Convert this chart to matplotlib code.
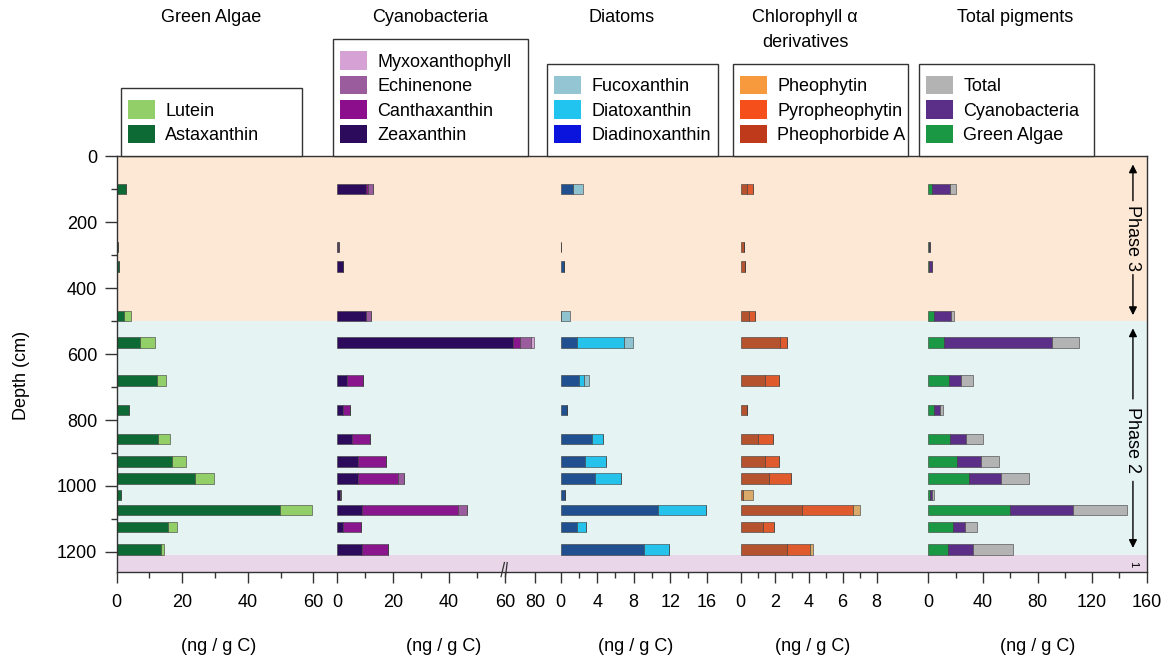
import numpy as np
import matplotlib
matplotlib.use("Agg")
import matplotlib.pyplot as plt
from matplotlib.patches import Patch
from matplotlib.path import Path

plt.rcParams["font.family"] = ["Liberation Sans", "DejaVu Sans"]
plt.rcParams["font.size"] = 13

# sample depths (cm)
depth = [100, 275, 335, 485, 565, 680, 770, 857, 925, 977, 1027, 1073, 1124, 1193]

# green algae pigments (ng / g C)
astaxanthin = [2.7, 0.3, 0.7, 2.1, 7.1, 12.4, 3.9, 12.7, 16.9, 23.9, 1.2, 49.8, 15.7, 13.5]
lutein = [0.0, 0.0, 0.0, 2.4, 4.7, 2.5, 0.0, 3.5, 4.1, 5.8, 0.0, 9.7, 2.7, 1.0]

# cyanobacteria pigments
zeaxanthin = [10.5, 0.3, 2.0, 10.5, 65.0, 3.4, 2.3, 5.2, 7.6, 7.6, 1.0, 8.8, 2.3, 8.8]
canthaxanthin = [0.5, 0.0, 0.0, 0.0, 5.0, 5.7, 2.3, 6.5, 9.8, 14.2, 0.0, 34.4, 6.1, 9.5]
echinenone = [2.0, 0.3, 0.0, 1.5, 7.0, 0.0, 0.0, 0.0, 0.0, 2.0, 0.3, 3.0, 0.0, 0.0]
myxoxanthophyll = [0.0, 0.0, 0.0, 0.0, 2.0, 0.0, 0.0, 0.0, 0.0, 0.0, 0.0, 0.0, 0.0, 0.0]

# diatom pigments
diadinoxanthin = [1.3, 0.0, 0.4, 0.0, 1.75, 2.0, 0.65, 3.4, 2.7, 3.8, 0.5, 10.7, 1.75, 9.1]
diatoxanthin = [0.0, 0.0, 0.0, 0.0, 5.15, 0.5, 0.0, 1.2, 2.3, 2.8, 0.0, 5.2, 1.05, 2.8]
fucoxanthin = [1.1, 0.0, 0.0, 1.0, 1.0, 0.6, 0.0, 0.0, 0.0, 0.0, 0.0, 0.0, 0.0, 0.0]

# chlorophyll a derivatives
pheophorbide_a = [0.4, 0.2, 0.25, 0.5, 2.3, 1.43, 0.4, 1.04, 1.43, 1.68, 0.15, 3.6, 1.3, 2.7]
pyropheophytin = [0.35, 0.0, 0.0, 0.35, 0.45, 0.84, 0.0, 0.84, 0.84, 1.26, 0.0, 3.0, 0.66, 1.4]
pheophytin = [0.0, 0.0, 0.0, 0.0, 0.0, 0.0, 0.0, 0.0, 0.0, 0.0, 0.6, 0.45, 0.0, 0.15]

# total pigment concentration
total = [20.3, 1.5, 3.0, 18.8, 110.4, 33.0, 10.5, 39.8, 51.8, 73.8, 4.4, 145.8, 35.9, 61.8]

green_sum = np.add(astaxanthin, lutein)
cyano_sum = np.sum([zeaxanthin, canthaxanthin, echinenone, myxoxanthophyll], axis=0)
rest = np.array(total) - green_sum - cyano_sum

W, H = 1169, 663
edges = [116.7, 337.0, 560.7, 740.7, 928.3, 1146.7]
ybot, ytop = 571.7, 156.2

fig = plt.figure(figsize=(W / 100, H / 100), dpi=100)

axes = []
for i in range(5):
    ax = fig.add_axes([edges[i] / W, 1 - ybot / H, (edges[i + 1] - edges[i]) / W, (ybot - ytop) / H])
    axes.append(ax)


def brk_fwd(x):
    x = np.asarray(x, float)
    return np.where(x <= 60, x, 60 + (x - 60) * 0.53)


def brk_inv(y):
    y = np.asarray(y, float)
    return np.where(y <= 60, y, 60 + (y - 60) / 0.53)


axes[1].set_xscale("function", functions=(brk_fwd, brk_inv))

VPAD = 5.0  # extra vertical room in the legend frames (px)


def tall_box(x0, y0, width, height, mutation_size):
    # square frame padded above and below only
    return Path([(x0, y0 - VPAD), (x0 + width, y0 - VPAD), (x0 + width, y0 + height + VPAD),
                 (x0, y0 + height + VPAD), (x0, y0 - VPAD)], closed=True)


panels = [
    dict(parts=[astaxanthin, lutein],
         colors=["#0d6a34", "#93cf68"],
         labels=["Astaxanthin", "Lutein"],
         keys=["#0d6a34", "#93cf68"],
         xlim=67.2, major=[0, 20, 40, 60], minor=[10, 30, 50]),
    dict(parts=[zeaxanthin, canthaxanthin, echinenone, myxoxanthophyll],
         colors=["#2d0b5c", "#8a168e", "#9a5c9c", "#d6a2d6"],
         labels=["Zeaxanthin", "Canthaxanthin", "Echinenone", "Myxoxanthophyll"],
         keys=["#2d0b5c", "#8d0e8d", "#9a5c9c", "#d6a2d6"],
         xlim=97.3, major=[0, 20, 40, 60, 80], minor=[10, 30, 50]),
    dict(parts=[diadinoxanthin, diatoxanthin, fucoxanthin],
         colors=["#20508f", "#25c3ec", "#8fc3cf"],
         labels=["Diadinoxanthin", "Diatoxanthin", "Fucoxanthin"],
         keys=["#0a14dc", "#20c4ef", "#93c5d2"],
         xlim=19.73, major=[0, 4, 8, 12, 16], minor=[2, 6, 10, 14]),
    dict(parts=[pheophorbide_a, pyropheophytin, pheophytin],
         colors=["#b4532e", "#df5a2c", "#d9aa6a"],
         labels=["Pheophorbide A", "Pyropheophytin", "Pheophytin"],
         keys=["#bf3a1b", "#f5501c", "#f69a3d"],
         xlim=11.04, major=[0, 2, 4, 6, 8], minor=[1, 3, 5, 7]),
    dict(parts=[green_sum, cyano_sum, rest],
         colors=["#1b9844", "#5b2e88", "#b3b3b3"],
         labels=["Green Algae", "Cyanobacteria", "Total"],
         keys=["#1b9844", "#5b2e88", "#b3b3b3"],
         xlim=160, major=[0, 40, 80, 120, 160], minor=[20, 60, 100, 140]),
]

# legend placement (axes fraction) and titles
leg_pos = [(0.0195, 0.822), (-0.018, 0.872), (-0.076, 0.95), (-0.041, 0.933), (-0.0426, 0.801)]
xlab_pos = [0.464, 0.476, 0.417, 0.383, 0.5]
titles = [("Green Algae", 211), ("Cyanobacteria", 430), ("Diatoms", 622),
          ("Chlorophyll α\nderivatives", 805), ("Total pigments", 1015)]

spine_col = "#333333"
for i, (ax, p) in enumerate(zip(axes, panels)):
    ax.axhspan(0, 500, color="#fde8d6", lw=0, zorder=0)
    ax.axhspan(500, 1210, color="#e6f3f3", lw=0, zorder=0)
    ax.axhspan(1210, 1260, color="#e9d6e8", lw=0, zorder=0)

    left = np.zeros(len(depth))
    for vals, c in zip(p["parts"], p["colors"]):
        ax.barh(depth, vals, left=left, height=32, color=c, edgecolor="#3a3a3a",
                linewidth=0.4, zorder=2)
        left = left + np.asarray(vals)

    ax.set_ylim(1260, 0)
    ax.set_xlim(0, p["xlim"])
    ax.set_xticks(p["major"])
    ax.set_xticks(p["minor"], minor=True)
    ax.tick_params(axis="x", which="major", length=8, width=1, pad=8,
                   color=spine_col, labelsize=13)
    ax.tick_params(axis="x", which="minor", length=4.5, width=1, color=spine_col)

    for s in ["left", "right"]:
        ax.spines[s].set_visible(False)
    for s in ax.spines.values():
        s.set_color(spine_col)
        s.set_linewidth(1.0)
    if i == 0:
        ax.spines["left"].set_visible(True)
        ax.set_yticks([0, 200, 400, 600, 800, 1000, 1200])
        ax.set_yticks([100, 300, 500, 700, 900, 1100], minor=True)
        ax.tick_params(axis="y", which="major", length=9, width=1, color=spine_col,
                       labelsize=13, pad=5)
        ax.tick_params(axis="y", which="minor", length=4, width=1, color=spine_col)
    else:
        ax.set_yticks([])
        ax.set_yticks([], minor=True)
    if i == 4:
        ax.spines["right"].set_visible(True)

    ax.set_xlabel("(ng / g C)", fontsize=13)
    ax.xaxis.set_label_coords(xlab_pos[i], -0.16)

    handles = [Patch(facecolor=c, edgecolor="none", label=l)
               for c, l in zip(p["keys"][::-1], p["labels"][::-1])]
    x0, w = leg_pos[i]
    leg = ax.legend(handles=handles, loc="lower left",
                    bbox_to_anchor=(x0, 1.0 + VPAD / (ybot - ytop), w, 0.0),
                    mode="expand", borderaxespad=0, fancybox=False, framealpha=1,
                    edgecolor=spine_col, fontsize=13, handlelength=1.5, handleheight=1.2,
                    labelspacing=0.28, handletextpad=0.55, borderpad=0.4)
    leg.get_frame().set_boxstyle(tall_box)
    leg.get_frame().set_linewidth(1.0)

for txt, xc in titles:
    fig.text(xc / W, 1 - 9 / H, txt, ha="center", va="top", fontsize=13, linespacing=1.6)

fig.text(22 / W, 1 - 375 / H, "Depth (cm)", rotation=90, ha="center", va="center", fontsize=13)

# axis break on the cyanobacteria scale
tr = axes[1].get_xaxis_transform()
for dx in (-0.9, 0.7):
    axes[1].plot([60 + dx - 0.6, 60 + dx + 0.6], [-0.012, 0.022], color=spine_col, lw=0.9,
                 transform=tr, clip_on=False, zorder=5)

# phase markers
ax5 = axes[4]
tr5 = ax5.get_yaxis_transform()
xa = 0.937
arrow = dict(arrowstyle="-|>", color="black", lw=1.0, mutation_scale=12, shrinkA=0, shrinkB=0)
for label, yc, y_top, y_bot, gap in [("Phase 3", 247, 25, 482, 112), ("Phase 2", 861, 522, 1188, 125)]:
    ax5.text(xa, yc, label, rotation=-90, ha="center", va="center", transform=tr5, fontsize=13)
    ax5.annotate("", xy=(xa, y_top), xytext=(xa, yc - gap), xycoords=tr5, textcoords=tr5,
                 arrowprops=arrow)
    ax5.annotate("", xy=(xa, y_bot), xytext=(xa, yc + gap), xycoords=tr5, textcoords=tr5,
                 arrowprops=arrow)
ax5.text(xa, 1236, "1", rotation=-90, ha="center", va="center", transform=tr5, fontsize=8)

fig.savefig("out.png", dpi=100)
